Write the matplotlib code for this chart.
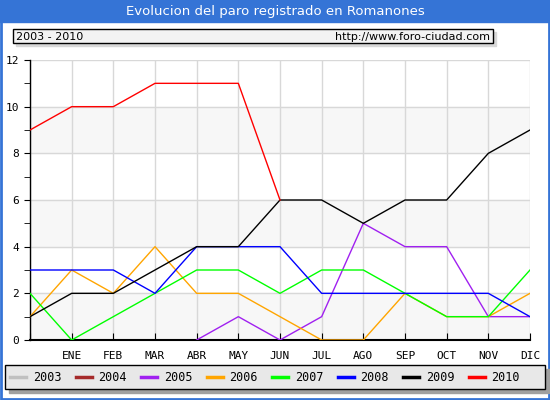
import numpy as np
import matplotlib
matplotlib.use("Agg")
import matplotlib.pyplot as plt
from matplotlib.patches import Rectangle
from matplotlib.lines import Line2D

# datos (posicion 0 = inicio, luego ENE..DIC)
months = ['', 'ENE', 'FEB', 'MAR', 'ABR', 'MAY', 'JUN', 'JUL', 'AGO', 'SEP', 'OCT', 'NOV', 'DIC']
years = ['2003', '2004', '2005', '2006', '2007', '2008', '2009', '2010']
colors = ['#c0c0c0', '#a52a2a', '#a020f0', '#ffa500', '#00ff00', '#0000ff', '#000000', '#ff0000']

n = None
paro_2003 = [n] * 13
paro_2004 = [n] * 13
paro_2005 = [n, n, n, n, 0, 1, 0, 1, 5, 4, 4, 1, 1]
paro_2006 = [1, 3, 2, 4, 2, 2, 1, 0, 0, 2, 1, 1, 2]
paro_2007 = [2, 0, 1, 2, 3, 3, 2, 3, 3, 2, 1, 1, 3]
paro_2008 = [3, 3, 3, 2, 4, 4, 4, 2, 2, 2, 2, 2, 1]
paro_2009 = [1, 2, 2, 3, 4, 4, 6, 6, 5, 6, 6, 8, 9]
paro_2010 = [9, 10, 10, 11, 11, 11, 6, n, n, n, n, n, n]
series = [paro_2003, paro_2004, paro_2005, paro_2006, paro_2007, paro_2008, paro_2009, paro_2010]

W, H = 550, 400
fig = plt.figure(figsize=(W / 100, H / 100), dpi=100)
mono = 'DejaVu Sans Mono'

# capa de fondo en pixeles
bg = fig.add_axes([0, 0, 1, 1])
bg.set_xlim(0, W)
bg.set_ylim(H, 0)
bg.axis('off')
blue = '#3574d6'
bg.add_patch(Rectangle((0, 0), W, 22, color=blue))
bg.add_patch(Rectangle((0.5, 0.5), W - 1.5, H - 1.5, fill=False, ec=blue, lw=2))
bg.text(W / 2, 11, 'Evolucion del paro registrado en Romanones', color='white',
        ha='center', va='center', fontsize=9.5, family='DejaVu Sans')

# cabecera
bg.add_patch(Rectangle((16, 32), 480, 14, color='#d8d8d8'))
bg.add_patch(Rectangle((13, 29), 480, 14, fc='#f3f3f3', ec='black', lw=1))
bg.text(16, 36.5, '2003 - 2010', fontsize=8, va='center', family='DejaVu Sans')
bg.text(490, 36.5, 'http://www.foro-ciudad.com', fontsize=8, va='center', ha='right',
        family='DejaVu Sans')

# leyenda
bg.add_patch(Rectangle((9, 369), 540, 24, color='#a0a0a0'))
bg.add_patch(Rectangle((5, 365), 540, 24, fc='#e8e8e8', ec='black', lw=1))
for i, (yr, c) in enumerate(zip(years, colors)):
    x0 = 10 + i * 65.5
    bg.add_line(Line2D([x0, x0 + 16], [377, 377], color=c, lw=2.5))
    bg.text(x0 + 23, 377.5, yr, fontsize=8.5, va='center', family=mono)

# grafico principal
ax = fig.add_axes([30 / W, 60 / H, 500 / W, 280 / H])
ax.set_xlim(0, 12)
ax.set_ylim(0, 12)
for y0 in [0, 4, 8]:
    ax.axhspan(y0, y0 + 2, color='#f7f7f7', zorder=0)
ax.grid(True, color='#d8d8d8', lw=1, zorder=1)
x = np.arange(13)
for s, c in zip(series, colors):
    vals = np.array([np.nan if v is None else v for v in s], dtype=float)
    ax.plot(x, vals, color=c, lw=1, zorder=3)

ax.set_xticks(x)
ax.set_xticklabels(months, family=mono, fontsize=8)
ax.set_yticks(range(0, 13, 2))
ax.set_yticklabels([str(v) for v in range(0, 13, 2)], family=mono, fontsize=8)
ax.set_yticks(range(1, 12, 2), minor=True)
ax.tick_params(axis='x', direction='in', length=5, pad=8)
ax.tick_params(axis='y', which='both', direction='out', length=4, pad=4)
for sp in ['top', 'right']:
    ax.spines[sp].set_visible(False)
ax.spines['left'].set_linewidth(1)
ax.spines['bottom'].set_linewidth(1.5)
ax.set_facecolor('white')

fig.savefig('out.png', dpi=100)
